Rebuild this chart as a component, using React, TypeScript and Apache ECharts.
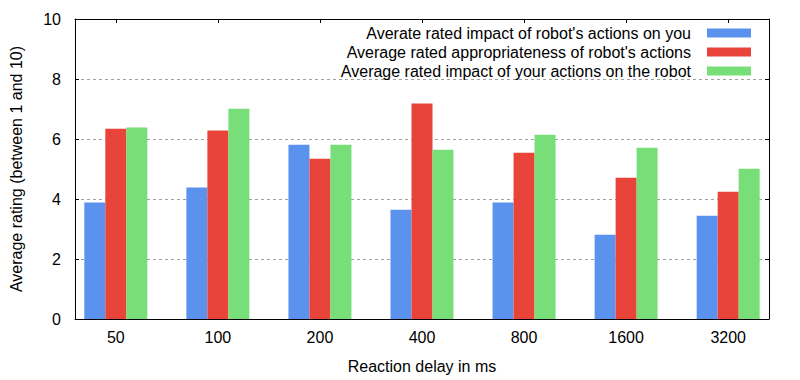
import React, { useEffect, useRef } from "react";
import * as echarts from "echarts";

const categories = ["50", "100", "200", "400", "800", "1600", "3200"];
const seriesNames = [
  "Averate rated impact of robot's actions on you",
  "Average rated appropriateness of robot's actions",
  "Average rated impact of your actions on the robot",
];
const impactOnYou = [3.88, 4.38, 5.81, 3.64, 3.88, 2.81, 3.44];
const appropriateness = [6.34, 6.28, 5.34, 7.18, 5.54, 4.71, 4.24];
const impactOnRobot = [6.38, 7.01, 5.81, 5.64, 6.14, 5.71, 5.01];
const colors = ["#5b92ee", "#e8443a", "#78de78"];

const FONT = "'Liberation Sans', Arial, sans-serif";
const FS = 16;

export default function App() {
  const ref = useRef<HTMLDivElement>(null);
  useEffect(() => {
    if (!ref.current) return;
    const chart = echarts.init(ref.current, undefined, { renderer: "svg" });
    const idx = categories.map((_, i) => i);
    const all = [impactOnYou, appropriateness, impactOnRobot];
    const xMin = -0.4;
    const xMax = 6.4;
    chart.setOption({
      animation: false,
      textStyle: { fontFamily: FONT },
      grid: { left: 74, right: 31, top: 19, bottom: 61, containLabel: false },
      legend: {
        orient: "vertical",
        right: 44,
        top: 20,
        align: "right",
        itemWidth: 44,
        itemHeight: 9,
        itemGap: 3,
        icon: "rect",
        selectedMode: false,
        textStyle: {
          fontFamily: FONT,
          fontSize: FS,
          color: "#000",
          lineHeight: 16,
          padding: [0, 11, 0, 0],
        },
        data: seriesNames,
      },
      xAxis: [
        {
          type: "value",
          min: xMin,
          max: xMax,
          position: "bottom",
          name: "Reaction delay in ms",
          nameLocation: "middle",
          nameGap: 39,
          nameTextStyle: { fontFamily: FONT, fontSize: FS, color: "#000" },
          axisLine: { show: true, onZero: false, lineStyle: { color: "#000", width: 1 } },
          axisTick: { show: false },
          splitLine: { show: false },
          axisLabel: {
            customValues: idx,
            formatter: (v: number) => categories[Math.round(v)] ?? "",
            fontFamily: FONT,
            fontSize: FS,
            color: "#000",
            margin: 10,
          },
        },
        {
          type: "value",
          min: xMin,
          max: xMax,
          position: "top",
          axisLine: { show: true, onZero: false, lineStyle: { color: "#000", width: 1 } },
          axisTick: {
            show: true,
            inside: true,
            length: 4,
            customValues: idx,
            lineStyle: { color: "#000" },
          },
          axisLabel: { show: false },
          splitLine: { show: false },
        },
      ],
      yAxis: [
        {
          type: "value",
          min: 0,
          max: 10,
          interval: 2,
          position: "left",
          name: "Average rating (between 1 and 10)",
          nameLocation: "middle",
          nameGap: 51,
          nameTextStyle: { fontFamily: FONT, fontSize: FS, color: "#000" },
          axisLine: { show: true, onZero: false, lineStyle: { color: "#000", width: 1 } },
          axisTick: { show: true, inside: true, length: 4, lineStyle: { color: "#000" } },
          axisLabel: { fontFamily: FONT, fontSize: FS, color: "#000", margin: 14 },
          splitLine: {
            show: true,
            lineStyle: { color: "#a0a0a0", type: [3, 3], width: 1 },
          },
        },
        {
          type: "value",
          min: 0,
          max: 10,
          interval: 2,
          position: "right",
          axisLine: { show: true, onZero: false, lineStyle: { color: "#000", width: 1 } },
          axisTick: { show: true, inside: true, length: 4, lineStyle: { color: "#000" } },
          axisLabel: { show: false },
          splitLine: { show: false },
        },
      ],
      series: all.map((vals, s) => ({
        type: "bar",
        name: seriesNames[s],
        xAxisIndex: 0,
        yAxisIndex: 0,
        barWidth: 21,
        barGap: "0%",
        itemStyle: { color: colors[s] },
        z: 1,
        data: idx.map((i) => [i, vals[i]]),
      })),
    });
    return () => chart.dispose();
  }, []);
  return (
    <div
      ref={ref}
      style={{ position: "fixed", left: 0, top: 0, width: 800, height: 380, background: "#fff" }}
    />
  );
}
